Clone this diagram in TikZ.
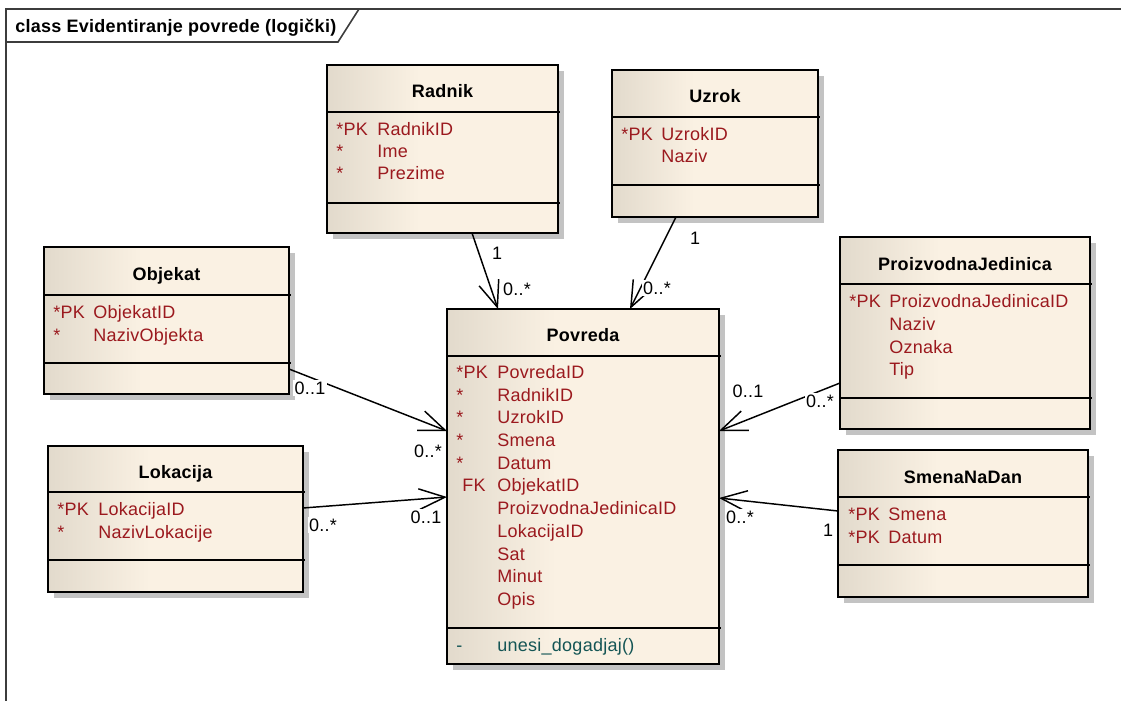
\documentclass[tikz,border=0pt]{standalone}
\usepackage{fontspec}
\setmainfont[LetterSpace=1.5]{Liberation Sans}
\usetikzlibrary{arrows.meta,shadows,fit}
\definecolor{clsL}{RGB}{226,218,204}
\definecolor{clsR}{RGB}{250,241,227}
\definecolor{attrred}{RGB}{155,25,30}
\definecolor{methteal}{RGB}{20,85,85}
\definecolor{shadowgray}{RGB}{195,195,195}
\definecolor{framegray}{RGB}{60,60,60}
\pgfdeclarehorizontalshading{clsshade}{100bp}{color(0bp)=(clsL); color(25bp)=(clsL); color(45bp)=(clsR); color(100bp)=(clsR)}
\newcommand\fsz{\fontsize{13.5pt}{16pt}\selectfont}
\newcommand\fld[6]{%
  \node[atr] (#1p) at (#2,#4) {#5};
  \node[atr] (#1) at (#3,#4) {#6};}
\begin{document}
\begin{tikzpicture}[x=0.75pt,y=-0.75pt,
  cls/.style={draw=black, line width=1.2pt, shade, shading=clsshade, inner sep=0pt, outer sep=0pt,
    general shadow={fill=shadowgray, shadow xshift=4.5pt, shadow yshift=-4.5pt}},
  sep/.style={draw=black, line width=1pt},
  ttl/.style={font=\bfseries\fsz, inner sep=0pt, anchor=base},
  atr/.style={font=\fsz, text=attrred, inner sep=0pt, anchor=base west},
  mth/.style={font=\fsz, text=methteal, inner sep=0pt, anchor=base west},
  conn/.style={draw=black, line width=1.1pt, -{Straight Barb[length=19.5pt,width=15.5pt]}},
  mult/.style={font=\fsz, fill=white, inner sep=1pt},
]
\useasboundingbox (0,0) rectangle (1121,700);
% frame
\draw[framegray, line width=1.5pt] (6,702) -- (6,9) -- (1125,9);
\draw[framegray, line width=1.2pt] (6,42) -- (338,42) -- (359,9);
\node[font=\bfseries\fsz, inner sep=0pt, anchor=base west] (frametitle) at (15,32) {class Evidentiranje povrede (logički)};

% Radnik
\node[cls, fit={(327,65) (558,233)}] (radnik) {};
\draw[sep] (radnik.west |- 0,112) -- ([xshift=1.5pt]radnik.east |- 0,112);
\draw[sep] (radnik.west |- 0,203) -- ([xshift=1.5pt]radnik.east |- 0,203);
\node[ttl] (radnikt) at (442.5,97) {Radnik};
\fld{ra1}{336}{377}{135}{*PK}{RadnikID}
\fld{ra2}{336}{377}{157}{*}{Ime}
\fld{ra3}{336}{377}{179}{*}{Prezime}

% Uzrok
\node[cls, fit={(612,70) (818,217)}] (uzrok) {};
\draw[sep] (uzrok.west |- 0,117) -- ([xshift=1.5pt]uzrok.east |- 0,117);
\draw[sep] (uzrok.west |- 0,185) -- ([xshift=1.5pt]uzrok.east |- 0,185);
\node[ttl] (uzrokt) at (715,102) {Uzrok};
\fld{uz1}{621}{661}{140}{*PK}{UzrokID}
\fld{uz2}{621}{661}{162}{}{Naziv}

% Objekat
\node[cls, fit={(44,247) (289,394)}] (objekat) {};
\draw[sep] (objekat.west |- 0,295) -- ([xshift=1.5pt]objekat.east |- 0,295);
\draw[sep] (objekat.west |- 0,363) -- ([xshift=1.5pt]objekat.east |- 0,363);
\node[ttl] (objekatt) at (166.5,280) {Objekat};
\fld{ob1}{53}{93}{318}{*PK}{ObjekatID}
\fld{ob2}{53}{93}{341}{*}{NazivObjekta}

% Lokacija
\node[cls, fit={(48,446) (303,592)}] (lokacija) {};
\draw[sep] (lokacija.west |- 0,492) -- ([xshift=1.5pt]lokacija.east |- 0,492);
\draw[sep] (lokacija.west |- 0,560) -- ([xshift=1.5pt]lokacija.east |- 0,560);
\node[ttl] (lokacijat) at (175.5,478) {Lokacija};
\fld{lo1}{57}{98}{515}{*PK}{LokacijaID}
\fld{lo2}{57}{98}{538}{*}{NazivLokacije}

% Povreda
\node[cls, fit={(447,309) (719,664)}] (povreda) {};
\draw[sep] (povreda.west |- 0,356) -- ([xshift=1.5pt]povreda.east |- 0,356);
\draw[sep] (povreda.west |- 0,628) -- ([xshift=1.5pt]povreda.east |- 0,628);
\node[ttl] (povredat) at (583,341) {Povreda};
\fld{po1}{456}{497}{378}{*PK}{PovredaID}
\fld{po2}{456}{497}{401}{*}{RadnikID}
\fld{po3}{456}{497}{423}{*}{UzrokID}
\fld{po4}{456}{497}{446}{*}{Smena}
\fld{po5}{456}{497}{469}{*}{Datum}
\fld{po6}{462}{497}{491}{FK}{ObjekatID}
\fld{po7}{456}{497}{514}{}{ProizvodnaJedinicaID}
\fld{po8}{456}{497}{537}{}{LokacijaID}
\fld{po9}{456}{497}{560}{}{Sat}
\fld{po10}{456}{497}{582}{}{Minut}
\fld{po11}{456}{497}{605}{}{Opis}
\node[mth] (pom1p) at (456,651) {-};
\node[mth] (pom1) at (497,651) {unesi\_dogadjaj()};

% ProizvodnaJedinica
\node[cls, fit={(840,237) (1090,429)}] (pj) {};
\draw[sep] (pj.west |- 0,284) -- ([xshift=1.5pt]pj.east |- 0,284);
\draw[sep] (pj.west |- 0,398) -- ([xshift=1.5pt]pj.east |- 0,398);
\node[ttl] (pjt) at (965,270) {ProizvodnaJedinica};
\fld{pj1}{849}{889}{307}{*PK}{ProizvodnaJedinicaID}
\fld{pj2}{849}{889}{330}{}{Naziv}
\fld{pj3}{849}{889}{353}{}{Oznaka}
\fld{pj4}{849}{889}{375}{}{Tip}

% SmenaNaDan
\node[cls, fit={(838,450) (1088,597)}] (snd) {};
\draw[sep] (snd.west |- 0,497) -- ([xshift=1.5pt]snd.east |- 0,497);
\draw[sep] (snd.west |- 0,565) -- ([xshift=1.5pt]snd.east |- 0,565);
\node[ttl] (sndt) at (963,483) {SmenaNaDan};
\fld{sn1}{848}{888}{520}{*PK}{Smena}
\fld{sn2}{848}{888}{543}{*PK}{Datum}

% connectors
\draw[conn] (472,0 |- radnik.south) -- (498,0 |- povreda.north);
\draw[conn] (676,0 |- uzrok.south) -- (630,0 |- povreda.north);
\draw[conn] (objekat.east |- 0,369) -- (povreda.west |- 0,431);
\draw[conn] (lokacija.east |- 0,508) -- (povreda.west |- 0,497);
\draw[conn] (pj.west |- 0,383) -- (povreda.east |- 0,431);
\draw[conn] (snd.west |- 0,511) -- (povreda.east |- 0,498);

% multiplicities
\node[mult] (m1a) at (497,253) {1};
\node[mult] (m1b) at (517,289) {0..*};
\node[mult] (m2a) at (695,238) {1};
\node[mult] (m2b) at (657,288) {0..*};
\node[mult] (m3a) at (310,388) {0..1};
\node[mult] (m3b) at (428,451) {0..*};
\node[mult] (m4a) at (323,525) {0..*};
\node[mult] (m4b) at (426,517) {0..1};
\node[mult] (m5a) at (748,391) {0..1};
\node[mult] (m5b) at (820,401) {0..*};
\node[mult] (m6a) at (740,517) {0..*};
\node[mult] (m6b) at (828,530) {1};
\end{tikzpicture}
\end{document}
